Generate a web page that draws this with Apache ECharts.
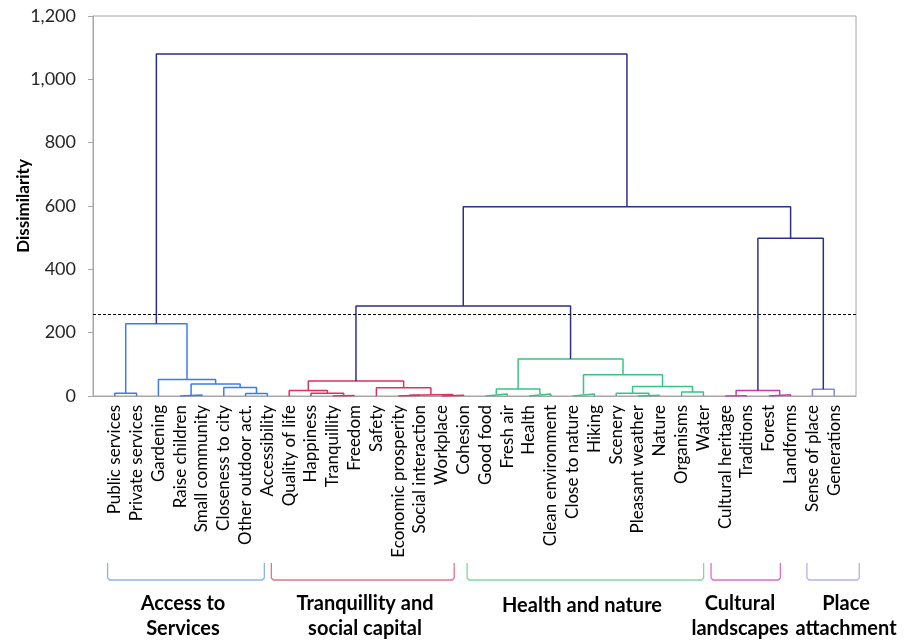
<!DOCTYPE html>
<html><head><meta charset="utf-8">
<script src="https://cdn.jsdelivr.net/npm/echarts@6/dist/echarts.min.js"></script>
<style>html,body{margin:0;padding:0;background:#fff}#c{width:914px;height:640px}</style>
</head><body><div id="c"></div>
<script>
// Leaf labels (left to right)
const leaves = ['Public services','Private services','Gardening','Raise children','Small community',
  'Closeness to city','Other outdoor act.','Accessibility','Quality of life','Happiness','Tranquillity',
  'Freedom','Safety','Economic prosperity','Social interaction','Workplace','Cohesion','Good food',
  'Fresh air','Health','Clean environment','Close to nature','Hiking','Scenery','Pleasant weather',
  'Nature','Organisms','Water','Cultural heritage','Traditions','Forest','Landforms','Sense of place','Generations'];

// Merges: [left node, right node, dissimilarity]; node ids 0..33 are leaves, 34+k is merge k
const mergeLeft  = [0,3,6,5,35,2,34, 10,9,8,13,15,44,12,43, 17,19,49,21,24,23,26,54,52,51, 48, 28,30,60,32,62,59,40];
const mergeRight = [1,4,7,36,37,38,39, 11,41,42,14,16,45,46,47, 18,20,50,22,25,53,27,55,56,57, 58, 29,31,61,33,63,64,65];
const mergeHeight= [9,3,8,27,38,52,228, 1.5,8.5,17,2,2.5,5,26,47, 6,6,22,6,2,9,13,30,67,117, 284, 1,4,17,21,498,598,1080];

// Clusters (consecutive leaves)
const groupNames = ['Access to\nServices','Tranquillity and\nsocial capital','Health and nature','Cultural\nlandscapes','Place\nattachment'];
const groupSizes = [8, 9, 11, 4, 2];
const cutLevel = 258;

const yTicks = [0, 200, 400, 600, 800, 1000, 1200];

// styles
const groupLineColors = ['#3b7cec','#e0305e','#36c586','#c838b4','#8585df'];
const groupBracketColors = ['#8fb1f0','#e4708f','#80d7ab','#e06cc8','#b3b3e8'];
const topColor = '#2e2e8e';
const FONT = 'Lato';

const nLeaf = leaves.length;
const leafGroup = [];
groupSizes.forEach((s, g) => { for (let i = 0; i < s; i++) leafGroup.push(g); });

// compute node positions
const nodeX = leaves.map((_, i) => i);
const nodeY = leaves.map(() => 0);
const nodeFirstLeaf = leaves.map((_, i) => i);
const series = [];
for (let k = 0; k < mergeLeft.length; k++) {
  const a = mergeLeft[k], b = mergeRight[k], h = mergeHeight[k];
  nodeX.push((nodeX[a] + nodeX[b]) / 2);
  nodeY.push(h);
  nodeFirstLeaf.push(nodeFirstLeaf[a]);
  const color = h < cutLevel ? groupLineColors[leafGroup[nodeFirstLeaf[a]]] : topColor;
  series.push({
    type: 'line', silent: true, symbol: 'none', animation: false,
    lineStyle: { color: color, width: 1.5 },
    data: [[nodeX[a], nodeY[a]], [nodeX[a], h], [nodeX[b], h], [nodeX[b], nodeY[b]]],
    z: h < cutLevel ? 3 : 4
  });
}
series.push({
  type: 'line', silent: true, symbol: 'none', animation: false, data: [],
  markLine: { silent: true, symbol: 'none', animation: false, label: { show: false },
    lineStyle: { color: '#000', type: [3, 2], width: 1 },
    data: [{ yAxis: cutLevel }] }
});

const chart = echarts.init(document.getElementById('c'), null, { renderer: 'canvas' });
const gridL = 93, gridR = 58, gridT = 16, gridB = 244;

chart.setOption({
  animation: false,
  grid: { left: gridL, right: gridR, top: gridT, bottom: gridB, show: true, borderColor: '#a6a6a6', borderWidth: 1, containLabel: false, outerBoundsMode: 'none' },
  xAxis: {
    type: 'value', min: -1, max: nLeaf, interval: 1,
    axisLine: { show: true, onZero: false, lineStyle: { color: '#a6a6a6', width: 1 } },
    axisTick: { show: false }, splitLine: { show: false },
    axisLabel: { rotate: 90, margin: 9, fontSize: 17, fontFamily: FONT, color: '#000',
      formatter: v => (v >= 0 && v < nLeaf && Number.isInteger(v)) ? leaves[v] : '' }
  },
  yAxis: {
    type: 'value', min: yTicks[0], max: yTicks[yTicks.length - 1], interval: yTicks[1] - yTicks[0],
    name: 'Dissimilarity', nameLocation: 'middle', nameGap: 61, nameRotate: 90, nameMoveOverlap: false,
    nameTextStyle: { fontSize: 17, fontWeight: 'bold', fontFamily: FONT, color: '#000' },
    axisLine: { show: true, onZero: false, lineStyle: { color: '#a6a6a6', width: 1 } },
    axisTick: { show: true, length: 5, lineStyle: { color: '#a6a6a6' } },
    splitLine: { show: false },
    axisLabel: { fontSize: 18, fontFamily: FONT, color: '#262626', margin: 17,
      formatter: v => v.toLocaleString('en-US') }
  },
  series: series
});

// group brackets and names
const bracketSpans = [[-0.33, 6.86], [7.18, 15.57], [16.16, 27.01], [27.35, 30.53], [31.75, 34.15]];
const labelCenters = [183, 365, 582, 740, 846];
const graphics = [];
bracketSpans.forEach((sp, g) => {
  const x1 = chart.convertToPixel({ xAxisIndex: 0 }, sp[0]);
  const x2 = chart.convertToPixel({ xAxisIndex: 0 }, sp[1]);
  const yt = 563, yb = 580;
  graphics.push({ type: 'polyline', silent: true,
    shape: { points: [[x1, yt], [x1, yb - 2], [x1 + 2, yb], [x2 - 2, yb], [x2, yb - 2], [x2, yt]] },
    style: { stroke: groupBracketColors[g], lineWidth: 1.3, fill: null } });
  const twoLine = groupNames[g].indexOf('\n') >= 0;
  graphics.push({ type: 'text', silent: true,
    style: { text: groupNames[g], x: labelCenters[g], y: twoLine ? 616 : 606,
      textAlign: 'center', textVerticalAlign: 'middle', align: 'center', verticalAlign: 'middle',
      font: 'bold 20px ' + FONT, lineHeight: 25, fill: '#000' } });
});
chart.setOption({ graphic: graphics });
</script>
</body></html>
